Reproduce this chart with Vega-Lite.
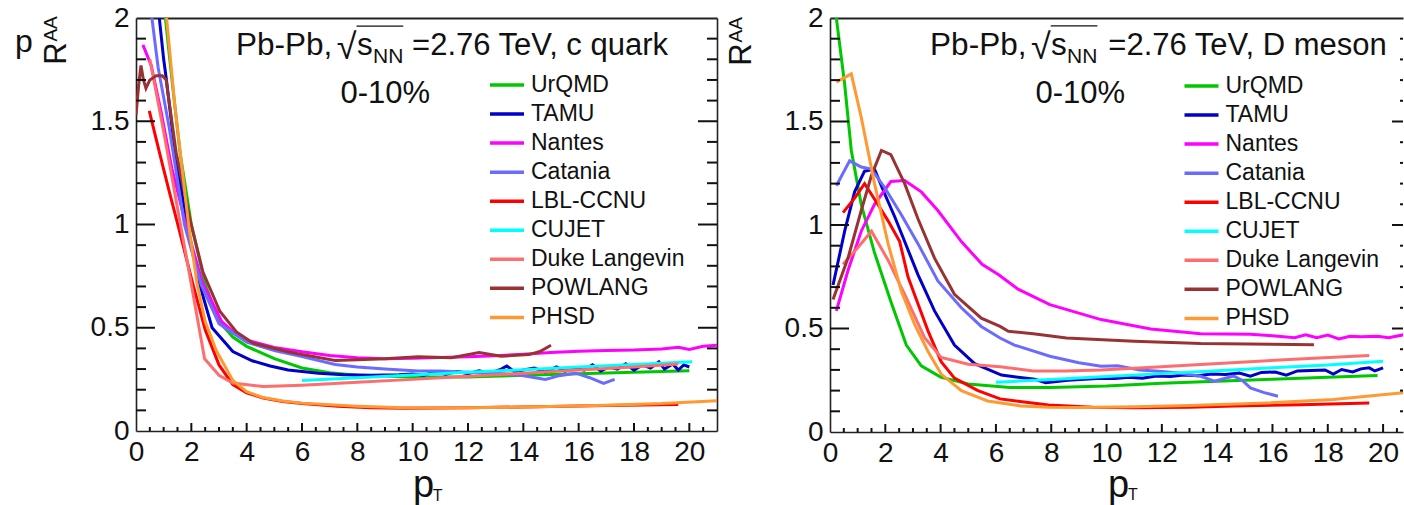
{
  "$schema": "https://vega.github.io/schema/vega-lite/v6.json",
  "background": "white",
  "padding": {"left": 15, "top": 4, "right": 0, "bottom": 0},
  "bounds": "flush",
  "spacing": 113,
  "config": {
    "font": "Liberation Sans",
    "view": {"stroke": null},
    "axis": {"grid": false, "domain": false, "ticks": false, "labels": false, "labelFont": "Liberation Sans", "labelColor": "#111", "domainColor": "#222", "domainWidth": 1.6, "titleFont": "Liberation Sans", "titleColor": "#111", "titleFontWeight": "normal", "labelFlush": false, "labelOverlap": false},
    "text": {"font": "Liberation Sans", "color": "#111"}
  },
  "resolve": {"scale": {"color": "independent"}, "legend": {"color": "independent"}},
  "datasets": {
    "tk": [
      {"v":0.5,"kind":"ymaj"},{"v":1,"kind":"ymaj"},{"v":1.5,"kind":"ymaj"},
      {"v":0.1,"kind":"ymin"},{"v":0.2,"kind":"ymin"},{"v":0.3,"kind":"ymin"},{"v":0.4,"kind":"ymin"},{"v":0.6,"kind":"ymin"},{"v":0.7,"kind":"ymin"},{"v":0.8,"kind":"ymin"},{"v":0.9,"kind":"ymin"},{"v":1.1,"kind":"ymin"},{"v":1.2,"kind":"ymin"},{"v":1.3,"kind":"ymin"},{"v":1.4,"kind":"ymin"},{"v":1.6,"kind":"ymin"},{"v":1.7,"kind":"ymin"},{"v":1.8,"kind":"ymin"},{"v":1.9,"kind":"ymin"},
      {"v":2,"kind":"xmaj"},{"v":4,"kind":"xmaj"},{"v":6,"kind":"xmaj"},{"v":8,"kind":"xmaj"},{"v":10,"kind":"xmaj"},{"v":12,"kind":"xmaj"},{"v":14,"kind":"xmaj"},{"v":16,"kind":"xmaj"},{"v":18,"kind":"xmaj"},{"v":20,"kind":"xmaj"},
      {"v":0.5,"kind":"xmin"},{"v":1,"kind":"xmin"},{"v":1.5,"kind":"xmin"},{"v":2.5,"kind":"xmin"},{"v":3,"kind":"xmin"},{"v":3.5,"kind":"xmin"},{"v":4.5,"kind":"xmin"},{"v":5,"kind":"xmin"},{"v":5.5,"kind":"xmin"},{"v":6.5,"kind":"xmin"},{"v":7,"kind":"xmin"},{"v":7.5,"kind":"xmin"},{"v":8.5,"kind":"xmin"},{"v":9,"kind":"xmin"},{"v":9.5,"kind":"xmin"},{"v":10.5,"kind":"xmin"},{"v":11,"kind":"xmin"},{"v":11.5,"kind":"xmin"},{"v":12.5,"kind":"xmin"},{"v":13,"kind":"xmin"},{"v":13.5,"kind":"xmin"},{"v":14.5,"kind":"xmin"},{"v":15,"kind":"xmin"},{"v":15.5,"kind":"xmin"},{"v":16.5,"kind":"xmin"},{"v":17,"kind":"xmin"},{"v":17.5,"kind":"xmin"},{"v":18.5,"kind":"xmin"},{"v":19,"kind":"xmin"},{"v":19.5,"kind":"xmin"},{"v":20.5,"kind":"xmin"}
    ],
    "cq": [
      {"model":"UrQMD","pt":1.0,"raa":2.08},{"model":"UrQMD","pt":1.3,"raa":1.7},{"model":"UrQMD","pt":1.6,"raa":1.34},{"model":"UrQMD","pt":2.0,"raa":1.0},{"model":"UrQMD","pt":2.5,"raa":0.71},{"model":"UrQMD","pt":3.0,"raa":0.53},{"model":"UrQMD","pt":3.5,"raa":0.455},{"model":"UrQMD","pt":4,"raa":0.41},{"model":"UrQMD","pt":5,"raa":0.35},{"model":"UrQMD","pt":6,"raa":0.305},{"model":"UrQMD","pt":7,"raa":0.282},{"model":"UrQMD","pt":8,"raa":0.27},{"model":"UrQMD","pt":10,"raa":0.262},{"model":"UrQMD","pt":12,"raa":0.262},{"model":"UrQMD","pt":14,"raa":0.27},{"model":"UrQMD","pt":16,"raa":0.277},{"model":"UrQMD","pt":18,"raa":0.284},{"model":"UrQMD","pt":20,"raa":0.292},
      {"model":"TAMU","pt":0.78,"raa":2.08},{"model":"TAMU","pt":1.0,"raa":1.8},{"model":"TAMU","pt":1.1,"raa":1.7},{"model":"TAMU","pt":1.4,"raa":1.36},{"model":"TAMU","pt":1.85,"raa":1.0},{"model":"TAMU","pt":2.3,"raa":0.71},{"model":"TAMU","pt":2.75,"raa":0.5},{"model":"TAMU","pt":3.5,"raa":0.385},{"model":"TAMU","pt":4.2,"raa":0.34},{"model":"TAMU","pt":4.85,"raa":0.315},{"model":"TAMU","pt":5.5,"raa":0.295},{"model":"TAMU","pt":6.6,"raa":0.28},{"model":"TAMU","pt":7.5,"raa":0.272},{"model":"TAMU","pt":8.5,"raa":0.27},{"model":"TAMU","pt":9.5,"raa":0.272},{"model":"TAMU","pt":10.0,"raa":0.276},{"model":"TAMU","pt":10.4,"raa":0.27},{"model":"TAMU","pt":10.8,"raa":0.285},{"model":"TAMU","pt":11.2,"raa":0.275},{"model":"TAMU","pt":11.6,"raa":0.288},{"model":"TAMU","pt":12.0,"raa":0.278},{"model":"TAMU","pt":12.4,"raa":0.292},{"model":"TAMU","pt":12.8,"raa":0.28},{"model":"TAMU","pt":13.2,"raa":0.3},{"model":"TAMU","pt":13.4,"raa":0.315},{"model":"TAMU","pt":13.7,"raa":0.285},{"model":"TAMU","pt":14.0,"raa":0.295},{"model":"TAMU","pt":14.4,"raa":0.305},{"model":"TAMU","pt":14.8,"raa":0.285},{"model":"TAMU","pt":15.2,"raa":0.31},{"model":"TAMU","pt":15.5,"raa":0.29},{"model":"TAMU","pt":15.9,"raa":0.305},{"model":"TAMU","pt":16.2,"raa":0.295},{"model":"TAMU","pt":16.5,"raa":0.32},{"model":"TAMU","pt":16.8,"raa":0.29},{"model":"TAMU","pt":17.1,"raa":0.31},{"model":"TAMU","pt":17.4,"raa":0.3},{"model":"TAMU","pt":17.7,"raa":0.325},{"model":"TAMU","pt":18.0,"raa":0.295},{"model":"TAMU","pt":18.3,"raa":0.32},{"model":"TAMU","pt":18.6,"raa":0.305},{"model":"TAMU","pt":18.9,"raa":0.335},{"model":"TAMU","pt":19.1,"raa":0.3},{"model":"TAMU","pt":19.4,"raa":0.325},{"model":"TAMU","pt":19.6,"raa":0.295},{"model":"TAMU","pt":19.8,"raa":0.32},{"model":"TAMU","pt":20.0,"raa":0.31},
      {"model":"Nantes","pt":0.25,"raa":1.87},{"model":"Nantes","pt":0.55,"raa":1.77},{"model":"Nantes","pt":0.9,"raa":1.55},{"model":"Nantes","pt":1.3,"raa":1.27},{"model":"Nantes","pt":1.8,"raa":1.0},{"model":"Nantes","pt":2.4,"raa":0.72},{"model":"Nantes","pt":3.1,"raa":0.53},{"model":"Nantes","pt":3.6,"raa":0.47},{"model":"Nantes","pt":4,"raa":0.44},{"model":"Nantes","pt":5,"raa":0.405},{"model":"Nantes","pt":6,"raa":0.384},{"model":"Nantes","pt":7,"raa":0.366},{"model":"Nantes","pt":8,"raa":0.355},{"model":"Nantes","pt":9,"raa":0.35},{"model":"Nantes","pt":10,"raa":0.352},{"model":"Nantes","pt":11,"raa":0.356},{"model":"Nantes","pt":12,"raa":0.36},{"model":"Nantes","pt":13,"raa":0.365},{"model":"Nantes","pt":14,"raa":0.372},{"model":"Nantes","pt":15,"raa":0.38},{"model":"Nantes","pt":16,"raa":0.386},{"model":"Nantes","pt":17,"raa":0.39},{"model":"Nantes","pt":18,"raa":0.392},{"model":"Nantes","pt":19,"raa":0.397},{"model":"Nantes","pt":19.6,"raa":0.405},{"model":"Nantes","pt":20,"raa":0.395},{"model":"Nantes","pt":20.5,"raa":0.41},{"model":"Nantes","pt":21,"raa":0.415},
      {"model":"Catania","pt":0.5,"raa":2.08},{"model":"Catania","pt":0.8,"raa":1.76},{"model":"Catania","pt":1.2,"raa":1.47},{"model":"Catania","pt":1.75,"raa":1.0},{"model":"Catania","pt":2.35,"raa":0.71},{"model":"Catania","pt":3.0,"raa":0.52},{"model":"Catania","pt":4,"raa":0.43},{"model":"Catania","pt":5,"raa":0.39},{"model":"Catania","pt":6,"raa":0.36},{"model":"Catania","pt":7.2,"raa":0.322},{"model":"Catania","pt":8,"raa":0.31},{"model":"Catania","pt":9,"raa":0.3},{"model":"Catania","pt":10.2,"raa":0.29},{"model":"Catania","pt":11,"raa":0.29},{"model":"Catania","pt":12,"raa":0.285},{"model":"Catania","pt":13,"raa":0.28},{"model":"Catania","pt":13.9,"raa":0.27},{"model":"Catania","pt":14.8,"raa":0.25},{"model":"Catania","pt":15.3,"raa":0.268},{"model":"Catania","pt":15.9,"raa":0.28},{"model":"Catania","pt":16.4,"raa":0.258},{"model":"Catania","pt":16.9,"raa":0.23},{"model":"Catania","pt":17.3,"raa":0.25},
      {"model":"LBL-CCNU","pt":0.48,"raa":1.55},{"model":"LBL-CCNU","pt":0.9,"raa":1.32},{"model":"LBL-CCNU","pt":1.2,"raa":1.16},{"model":"LBL-CCNU","pt":1.55,"raa":0.98},{"model":"LBL-CCNU","pt":2.0,"raa":0.74},{"model":"LBL-CCNU","pt":2.5,"raa":0.49},{"model":"LBL-CCNU","pt":3.0,"raa":0.32},{"model":"LBL-CCNU","pt":3.5,"raa":0.225},{"model":"LBL-CCNU","pt":4.0,"raa":0.185},{"model":"LBL-CCNU","pt":4.6,"raa":0.16},{"model":"LBL-CCNU","pt":5.3,"raa":0.143},{"model":"LBL-CCNU","pt":6,"raa":0.133},{"model":"LBL-CCNU","pt":7.3,"raa":0.12},{"model":"LBL-CCNU","pt":8.5,"raa":0.113},{"model":"LBL-CCNU","pt":9.7,"raa":0.11},{"model":"LBL-CCNU","pt":12,"raa":0.112},{"model":"LBL-CCNU","pt":14.5,"raa":0.118},{"model":"LBL-CCNU","pt":17,"raa":0.124},{"model":"LBL-CCNU","pt":19.6,"raa":0.128},
      {"model":"CUJET","pt":6,"raa":0.245},{"model":"CUJET","pt":8,"raa":0.258},{"model":"CUJET","pt":10,"raa":0.271},{"model":"CUJET","pt":12,"raa":0.284},{"model":"CUJET","pt":14,"raa":0.297},{"model":"CUJET","pt":16,"raa":0.31},{"model":"CUJET","pt":18,"raa":0.322},{"model":"CUJET","pt":20.1,"raa":0.335},
      {"model":"Duke Langevin","pt":0.5,"raa":1.8},{"model":"Duke Langevin","pt":1.0,"raa":1.45},{"model":"Duke Langevin","pt":1.5,"raa":1.08},{"model":"Duke Langevin","pt":2.0,"raa":0.71},{"model":"Duke Langevin","pt":2.48,"raa":0.35},{"model":"Duke Langevin","pt":3.0,"raa":0.27},{"model":"Duke Langevin","pt":3.5,"raa":0.232},{"model":"Duke Langevin","pt":4.6,"raa":0.215},{"model":"Duke Langevin","pt":6,"raa":0.222},{"model":"Duke Langevin","pt":8,"raa":0.236},{"model":"Duke Langevin","pt":10,"raa":0.25},{"model":"Duke Langevin","pt":12,"raa":0.265},{"model":"Duke Langevin","pt":14,"raa":0.28},{"model":"Duke Langevin","pt":16,"raa":0.295},{"model":"Duke Langevin","pt":18,"raa":0.31},{"model":"Duke Langevin","pt":19.6,"raa":0.325},
      {"model":"POWLANG","pt":0.0,"raa":1.53},{"model":"POWLANG","pt":0.1,"raa":1.68},{"model":"POWLANG","pt":0.18,"raa":1.77},{"model":"POWLANG","pt":0.27,"raa":1.7},{"model":"POWLANG","pt":0.36,"raa":1.66},{"model":"POWLANG","pt":0.5,"raa":1.7},{"model":"POWLANG","pt":0.73,"raa":1.72},{"model":"POWLANG","pt":0.95,"raa":1.72},{"model":"POWLANG","pt":1.09,"raa":1.7},{"model":"POWLANG","pt":1.45,"raa":1.35},{"model":"POWLANG","pt":1.94,"raa":1.03},{"model":"POWLANG","pt":2.42,"raa":0.77},{"model":"POWLANG","pt":3.03,"raa":0.58},{"model":"POWLANG","pt":3.63,"raa":0.48},{"model":"POWLANG","pt":4.24,"raa":0.425},{"model":"POWLANG","pt":5.45,"raa":0.385},{"model":"POWLANG","pt":6,"raa":0.37},{"model":"POWLANG","pt":7.2,"raa":0.342},{"model":"POWLANG","pt":8,"raa":0.345},{"model":"POWLANG","pt":9,"raa":0.35},{"model":"POWLANG","pt":10.2,"raa":0.36},{"model":"POWLANG","pt":11.4,"raa":0.355},{"model":"POWLANG","pt":12.4,"raa":0.38},{"model":"POWLANG","pt":13.2,"raa":0.362},{"model":"POWLANG","pt":14.2,"raa":0.37},{"model":"POWLANG","pt":14.6,"raa":0.385},{"model":"POWLANG","pt":15,"raa":0.415},
      {"model":"PHSD","pt":1.05,"raa":2.08},{"model":"PHSD","pt":1.4,"raa":1.58},{"model":"PHSD","pt":1.9,"raa":1.0},{"model":"PHSD","pt":2.2,"raa":0.72},{"model":"PHSD","pt":2.5,"raa":0.53},{"model":"PHSD","pt":2.9,"raa":0.39},{"model":"PHSD","pt":3.5,"raa":0.245},{"model":"PHSD","pt":4.0,"raa":0.19},{"model":"PHSD","pt":4.6,"raa":0.162},{"model":"PHSD","pt":5.3,"raa":0.145},{"model":"PHSD","pt":6,"raa":0.135},{"model":"PHSD","pt":8,"raa":0.12},{"model":"PHSD","pt":9.7,"raa":0.112},{"model":"PHSD","pt":12,"raa":0.112},{"model":"PHSD","pt":14.5,"raa":0.117},{"model":"PHSD","pt":17,"raa":0.125},{"model":"PHSD","pt":19,"raa":0.133},{"model":"PHSD","pt":21,"raa":0.147}
    ],
    "dm": [
      {"model":"UrQMD","pt":0.15,"raa":2.1},{"model":"UrQMD","pt":0.23,"raa":2.0},{"model":"UrQMD","pt":0.53,"raa":1.68},{"model":"UrQMD","pt":0.77,"raa":1.36},{"model":"UrQMD","pt":1.13,"raa":1.1},{"model":"UrQMD","pt":1.6,"raa":0.87},{"model":"UrQMD","pt":2.2,"raa":0.63},{"model":"UrQMD","pt":2.76,"raa":0.42},{"model":"UrQMD","pt":3.3,"raa":0.32},{"model":"UrQMD","pt":4.0,"raa":0.265},{"model":"UrQMD","pt":5.0,"raa":0.232},{"model":"UrQMD","pt":6.5,"raa":0.215},{"model":"UrQMD","pt":8,"raa":0.215},{"model":"UrQMD","pt":10,"raa":0.222},{"model":"UrQMD","pt":12,"raa":0.235},{"model":"UrQMD","pt":14,"raa":0.245},{"model":"UrQMD","pt":16,"raa":0.255},{"model":"UrQMD","pt":18,"raa":0.265},{"model":"UrQMD","pt":19.8,"raa":0.273},
      {"model":"TAMU","pt":0.11,"raa":0.71},{"model":"TAMU","pt":0.53,"raa":0.97},{"model":"TAMU","pt":0.89,"raa":1.16},{"model":"TAMU","pt":1.25,"raa":1.26},{"model":"TAMU","pt":1.61,"raa":1.27},{"model":"TAMU","pt":1.98,"raa":1.15},{"model":"TAMU","pt":2.34,"raa":1.04},{"model":"TAMU","pt":2.7,"raa":0.92},{"model":"TAMU","pt":3.18,"raa":0.76},{"model":"TAMU","pt":3.78,"raa":0.585},{"model":"TAMU","pt":4.5,"raa":0.42},{"model":"TAMU","pt":5.23,"raa":0.33},{"model":"TAMU","pt":6.2,"raa":0.275},{"model":"TAMU","pt":7.4,"raa":0.255},{"model":"TAMU","pt":7.8,"raa":0.238},{"model":"TAMU","pt":8.6,"raa":0.25},{"model":"TAMU","pt":9.2,"raa":0.255},{"model":"TAMU","pt":9.8,"raa":0.26},{"model":"TAMU","pt":10.3,"raa":0.258},{"model":"TAMU","pt":10.8,"raa":0.265},{"model":"TAMU","pt":11.3,"raa":0.26},{"model":"TAMU","pt":11.8,"raa":0.27},{"model":"TAMU","pt":12.3,"raa":0.268},{"model":"TAMU","pt":12.8,"raa":0.275},{"model":"TAMU","pt":13.3,"raa":0.272},{"model":"TAMU","pt":13.8,"raa":0.28},{"model":"TAMU","pt":14.3,"raa":0.278},{"model":"TAMU","pt":14.8,"raa":0.285},{"model":"TAMU","pt":15.2,"raa":0.27},{"model":"TAMU","pt":15.6,"raa":0.288},{"model":"TAMU","pt":16.1,"raa":0.29},{"model":"TAMU","pt":16.5,"raa":0.275},{"model":"TAMU","pt":16.9,"raa":0.295},{"model":"TAMU","pt":17.4,"raa":0.297},{"model":"TAMU","pt":17.9,"raa":0.3},{"model":"TAMU","pt":18.2,"raa":0.28},{"model":"TAMU","pt":18.5,"raa":0.302},{"model":"TAMU","pt":18.9,"raa":0.29},{"model":"TAMU","pt":19.2,"raa":0.305},{"model":"TAMU","pt":19.5,"raa":0.31},{"model":"TAMU","pt":19.7,"raa":0.295},{"model":"TAMU","pt":20.0,"raa":0.31},
      {"model":"Nantes","pt":0.23,"raa":0.585},{"model":"Nantes","pt":0.65,"raa":0.78},{"model":"Nantes","pt":1.13,"raa":0.97},{"model":"Nantes","pt":1.61,"raa":1.1},{"model":"Nantes","pt":2.2,"raa":1.21},{"model":"Nantes","pt":2.7,"raa":1.215},{"model":"Nantes","pt":3.3,"raa":1.16},{"model":"Nantes","pt":3.9,"raa":1.07},{"model":"Nantes","pt":4.75,"raa":0.92},{"model":"Nantes","pt":5.5,"raa":0.81},{"model":"Nantes","pt":6.1,"raa":0.76},{"model":"Nantes","pt":6.8,"raa":0.69},{"model":"Nantes","pt":7.95,"raa":0.615},{"model":"Nantes","pt":9.8,"raa":0.543},{"model":"Nantes","pt":11.6,"raa":0.498},{"model":"Nantes","pt":13.4,"raa":0.475},{"model":"Nantes","pt":15.2,"raa":0.472},{"model":"Nantes","pt":16.0,"raa":0.465},{"model":"Nantes","pt":16.8,"raa":0.455},{"model":"Nantes","pt":17.2,"raa":0.47},{"model":"Nantes","pt":17.6,"raa":0.455},{"model":"Nantes","pt":18.0,"raa":0.468},{"model":"Nantes","pt":18.4,"raa":0.45},{"model":"Nantes","pt":18.8,"raa":0.462},{"model":"Nantes","pt":19.2,"raa":0.46},{"model":"Nantes","pt":19.8,"raa":0.462},{"model":"Nantes","pt":20.2,"raa":0.455},{"model":"Nantes","pt":20.75,"raa":0.47},
      {"model":"Catania","pt":0.23,"raa":1.19},{"model":"Catania","pt":0.71,"raa":1.31},{"model":"Catania","pt":1.13,"raa":1.28},{"model":"Catania","pt":1.5,"raa":1.27},{"model":"Catania","pt":1.98,"raa":1.18},{"model":"Catania","pt":2.58,"raa":1.05},{"model":"Catania","pt":3.18,"raa":0.91},{"model":"Catania","pt":3.9,"raa":0.73},{"model":"Catania","pt":4.75,"raa":0.6},{"model":"Catania","pt":5.47,"raa":0.51},{"model":"Catania","pt":6.15,"raa":0.454},{"model":"Catania","pt":6.67,"raa":0.42},{"model":"Catania","pt":7.95,"raa":0.366},{"model":"Catania","pt":9,"raa":0.335},{"model":"Catania","pt":9.8,"raa":0.318},{"model":"Catania","pt":10.4,"raa":0.32},{"model":"Catania","pt":11.2,"raa":0.3},{"model":"Catania","pt":11.9,"raa":0.293},{"model":"Catania","pt":12.6,"raa":0.285},{"model":"Catania","pt":13.4,"raa":0.269},{"model":"Catania","pt":13.9,"raa":0.245},{"model":"Catania","pt":14.3,"raa":0.26},{"model":"Catania","pt":14.6,"raa":0.27},{"model":"Catania","pt":14.9,"raa":0.25},{"model":"Catania","pt":15.2,"raa":0.213},{"model":"Catania","pt":15.7,"raa":0.19},{"model":"Catania","pt":16.2,"raa":0.173},
      {"model":"LBL-CCNU","pt":0.47,"raa":1.06},{"model":"LBL-CCNU","pt":0.89,"raa":1.13},{"model":"LBL-CCNU","pt":1.25,"raa":1.2},{"model":"LBL-CCNU","pt":1.73,"raa":1.1},{"model":"LBL-CCNU","pt":2.1,"raa":1.02},{"model":"LBL-CCNU","pt":2.52,"raa":0.92},{"model":"LBL-CCNU","pt":2.82,"raa":0.75},{"model":"LBL-CCNU","pt":3.18,"raa":0.62},{"model":"LBL-CCNU","pt":3.54,"raa":0.49},{"model":"LBL-CCNU","pt":4.02,"raa":0.34},{"model":"LBL-CCNU","pt":4.5,"raa":0.26},{"model":"LBL-CCNU","pt":5.35,"raa":0.2},{"model":"LBL-CCNU","pt":6.15,"raa":0.16},{"model":"LBL-CCNU","pt":7.9,"raa":0.13},{"model":"LBL-CCNU","pt":9.5,"raa":0.12},{"model":"LBL-CCNU","pt":11,"raa":0.117},{"model":"LBL-CCNU","pt":13,"raa":0.12},{"model":"LBL-CCNU","pt":14.6,"raa":0.125},{"model":"LBL-CCNU","pt":17,"raa":0.132},{"model":"LBL-CCNU","pt":19.5,"raa":0.14},
      {"model":"CUJET","pt":6.0,"raa":0.24},{"model":"CUJET","pt":8,"raa":0.254},{"model":"CUJET","pt":10,"raa":0.268},{"model":"CUJET","pt":12,"raa":0.282},{"model":"CUJET","pt":14,"raa":0.296},{"model":"CUJET","pt":16,"raa":0.31},{"model":"CUJET","pt":18,"raa":0.324},{"model":"CUJET","pt":20,"raa":0.342},
      {"model":"Duke Langevin","pt":0.47,"raa":0.81},{"model":"Duke Langevin","pt":1.0,"raa":0.89},{"model":"Duke Langevin","pt":1.5,"raa":0.97},{"model":"Duke Langevin","pt":2.1,"raa":0.83},{"model":"Duke Langevin","pt":2.7,"raa":0.665},{"model":"Duke Langevin","pt":3.42,"raa":0.456},{"model":"Duke Langevin","pt":4.02,"raa":0.36},{"model":"Duke Langevin","pt":5.0,"raa":0.327},{"model":"Duke Langevin","pt":6.15,"raa":0.315},{"model":"Duke Langevin","pt":7.35,"raa":0.295},{"model":"Duke Langevin","pt":8.5,"raa":0.295},{"model":"Duke Langevin","pt":9.8,"raa":0.3},{"model":"Duke Langevin","pt":11.5,"raa":0.312},{"model":"Duke Langevin","pt":13.4,"raa":0.326},{"model":"Duke Langevin","pt":15.5,"raa":0.342},{"model":"Duke Langevin","pt":17.5,"raa":0.356},{"model":"Duke Langevin","pt":19.5,"raa":0.37},
      {"model":"POWLANG","pt":0.11,"raa":0.64},{"model":"POWLANG","pt":0.65,"raa":0.84},{"model":"POWLANG","pt":1.13,"raa":1.07},{"model":"POWLANG","pt":1.5,"raa":1.24},{"model":"POWLANG","pt":1.86,"raa":1.36},{"model":"POWLANG","pt":2.2,"raa":1.34},{"model":"POWLANG","pt":2.7,"raa":1.2},{"model":"POWLANG","pt":3.18,"raa":1.03},{"model":"POWLANG","pt":3.78,"raa":0.84},{"model":"POWLANG","pt":4.5,"raa":0.665},{"model":"POWLANG","pt":5.47,"raa":0.55},{"model":"POWLANG","pt":6.15,"raa":0.51},{"model":"POWLANG","pt":6.45,"raa":0.487},{"model":"POWLANG","pt":7.35,"raa":0.475},{"model":"POWLANG","pt":8.55,"raa":0.454},{"model":"POWLANG","pt":11,"raa":0.438},{"model":"POWLANG","pt":13.4,"raa":0.427},{"model":"POWLANG","pt":17.5,"raa":0.422},
      {"model":"PHSD","pt":0.23,"raa":1.69},{"model":"PHSD","pt":0.77,"raa":1.73},{"model":"PHSD","pt":1.13,"raa":1.52},{"model":"PHSD","pt":1.61,"raa":1.2},{"model":"PHSD","pt":2.1,"raa":0.91},{"model":"PHSD","pt":2.58,"raa":0.68},{"model":"PHSD","pt":3.06,"raa":0.52},{"model":"PHSD","pt":3.54,"raa":0.39},{"model":"PHSD","pt":4.02,"raa":0.28},{"model":"PHSD","pt":4.75,"raa":0.2},{"model":"PHSD","pt":5.7,"raa":0.15},{"model":"PHSD","pt":6.9,"raa":0.126},{"model":"PHSD","pt":7.9,"raa":0.12},{"model":"PHSD","pt":9,"raa":0.118},{"model":"PHSD","pt":11,"raa":0.122},{"model":"PHSD","pt":13,"raa":0.128},{"model":"PHSD","pt":15.8,"raa":0.14},{"model":"PHSD","pt":18.2,"raa":0.157},{"model":"PHSD","pt":20.75,"raa":0.19}
    ],
    "annL": [
      {"role":"L","label":"Pb-Pb,","pt":3.61,"raa":1.821},
      {"role":"L","label":"s","pt":7.99,"raa":1.821},
      {"role":"R","label":"=2.76 TeV, c quark","pt":19.23,"raa":1.821},
      {"role":"R","label":"0-10%","pt":10.63,"raa":1.588},
      {"role":"sub","label":"NN","pt":8.57,"raa":1.782},
      {"role":"root","label":"√","pt":7.26,"raa":1.8},
      {"role":"bar","label":"","pt":7.97,"pt2":9.66,"raa":1.961},
      {"role":"AA","label":"AA","pt":-2.855,"raa":1.947},
      {"role":"p","label":"p","pt":-4.37,"raa":1.835},
      {"role":"T","label":"T","pt":10.73,"raa":-0.34}
    ],
    "annR": [
      {"role":"L","label":"Pb-Pb,","pt":3.62,"raa":1.822},
      {"role":"L","label":"s","pt":7.99,"raa":1.822},
      {"role":"R","label":"=2.76 TeV, D meson","pt":20.13,"raa":1.822},
      {"role":"R","label":"0-10%","pt":10.67,"raa":1.59},
      {"role":"sub","label":"NN","pt":8.57,"raa":1.783},
      {"role":"root","label":"√","pt":7.27,"raa":1.8},
      {"role":"bar","label":"","pt":7.98,"pt2":9.67,"raa":1.962},
      {"role":"AA","label":"AA","pt":-3.18,"raa":1.943},
      {"role":"T","label":"T","pt":10.78,"raa":-0.33}
    ]
  },
  "hconcat": [
    {
      "width": 581, "height": 413,
      "resolve": {"axis": {"x": "independent", "y": "independent"}},
      "layer": [
        {
          "data": {"name": "cq"},
          "mark": {"type": "line", "strokeWidth": 3, "clip": true},
          "encoding": {
            "x": {"field": "pt", "type": "quantitative", "scale": {"domain": [0, 21], "nice": false, "zero": false},
                  "axis": {"orient": "bottom", "domain": true, "labels": true, "values": [0,2,4,6,8,10,12,14,16,18,20], "format": "~g", "labelPadding": 7, "labelFontSize": 28, "title": "p", "titleFontSize": 38, "titleX": 287, "titleY": 65, "titleBaseline": "alphabetic", "titleAlign": "center", "titleAngle": 0}},
            "y": {"field": "raa", "type": "quantitative", "scale": {"domain": [0, 2], "nice": false, "zero": false},
                  "axis": {"orient": "left", "domain": true, "labels": true, "values": [0,0.5,1,1.5,2], "format": "~g", "labelPadding": 7, "labelFontSize": 28, "title": "R", "titleFontSize": 31, "titleAngle": 270, "titleX": -71, "titleY": 35, "titleBaseline": "alphabetic", "titleAlign": "center"}},
            "color": {"field": "model", "type": "nominal",
                      "scale": {"domain": ["UrQMD","TAMU","Nantes","Catania","LBL-CCNU","CUJET","Duke Langevin","POWLANG","PHSD"], "range": ["#00c800","#0000c8","#ff00ff","#6b6bff","#ff0000","#00ffff","#ff6e6e","#993333","#ff9933"]},
                      "legend": {"orient": "none", "legendX": 359.5, "legendY": 55.5, "title": null, "direction": "vertical", "padding": 0, "symbolType": "M-2,0H2", "symbolSize": 289, "symbolStrokeWidth": 3.5, "symbolOffset": 0, "labelOffset": 12.5, "labelFontSize": 23, "labelFont": "Liberation Sans", "labelColor": "#111", "rowPadding": 5.05, "labelLimit": 400}}
          }
        },
        {
          "data": {"name": "annL"},
          "transform": [{"filter": "datum.role === 'L'"}],
          "mark": {"type": "text", "align": "left", "baseline": "alphabetic", "fontSize": 31.5},
          "encoding": {
            "x": {"field": "pt", "type": "quantitative", "scale": {"domain": [0, 21], "nice": false, "zero": false}, "axis": null},
            "y": {"field": "raa", "type": "quantitative", "scale": {"domain": [0, 2], "nice": false, "zero": false}, "axis": null},
            "text": {"field": "label"}
          }
        },
        {
          "data": {"name": "annL"},
          "transform": [{"filter": "datum.role === 'R'"}],
          "mark": {"type": "text", "align": "right", "baseline": "alphabetic", "fontSize": 31},
          "encoding": {
            "x": {"field": "pt", "type": "quantitative", "scale": {"domain": [0, 21], "nice": false, "zero": false}, "axis": null},
            "y": {"field": "raa", "type": "quantitative", "scale": {"domain": [0, 2], "nice": false, "zero": false}, "axis": null},
            "text": {"field": "label"}
          }
        },
        {
          "data": {"name": "annL"},
          "transform": [{"filter": "datum.role === 'sub'"}],
          "mark": {"type": "text", "align": "left", "baseline": "alphabetic", "fontSize": 21},
          "encoding": {
            "x": {"field": "pt", "type": "quantitative", "scale": {"domain": [0, 21], "nice": false, "zero": false},
                  "axis": {"orient": "top", "domain": true, "domainWidth": 2, "title": null}},
            "y": {"field": "raa", "type": "quantitative", "scale": {"domain": [0, 2], "nice": false, "zero": false}, "axis": null},
            "text": {"field": "label"}
          }
        },
        {
          "data": {"name": "annL"},
          "transform": [{"filter": "datum.role === 'root'"}],
          "mark": {"type": "text", "align": "left", "baseline": "alphabetic", "fontSize": 36},
          "encoding": {
            "x": {"field": "pt", "type": "quantitative", "scale": {"domain": [0, 21], "nice": false, "zero": false}, "axis": null},
            "y": {"field": "raa", "type": "quantitative", "scale": {"domain": [0, 2], "nice": false, "zero": false}, "axis": null},
            "text": {"field": "label"}
          }
        },
        {
          "data": {"name": "annL"},
          "transform": [{"filter": "datum.role === 'bar'"}],
          "mark": {"type": "rule", "strokeWidth": 1.3, "color": "#111"},
          "encoding": {
            "x": {"field": "pt", "type": "quantitative", "scale": {"domain": [0, 21], "nice": false, "zero": false}, "axis": null},
            "x2": {"field": "pt2"},
            "y": {"field": "raa", "type": "quantitative", "scale": {"domain": [0, 2], "nice": false, "zero": false},
                  "axis": {"orient": "right", "domain": true, "title": null}}
          }
        },
        {
          "data": {"name": "annL"},
          "transform": [{"filter": "datum.role === 'AA'"}],
          "mark": {"type": "text", "align": "center", "baseline": "alphabetic", "fontSize": 19, "angle": 270},
          "encoding": {
            "x": {"field": "pt", "type": "quantitative", "scale": {"domain": [0, 21], "nice": false, "zero": false}, "axis": null},
            "y": {"field": "raa", "type": "quantitative", "scale": {"domain": [0, 2], "nice": false, "zero": false}, "axis": null},
            "text": {"field": "label"}
          }
        },
        {
          "data": {"name": "annL"},
          "transform": [{"filter": "datum.role === 'p'"}],
          "mark": {"type": "text", "align": "left", "baseline": "alphabetic", "fontSize": 32},
          "encoding": {
            "x": {"field": "pt", "type": "quantitative", "scale": {"domain": [0, 21], "nice": false, "zero": false}, "axis": null},
            "y": {"field": "raa", "type": "quantitative", "scale": {"domain": [0, 2], "nice": false, "zero": false}, "axis": null},
            "text": {"field": "label"}
          }
        },
        {
          "data": {"name": "annL"},
          "transform": [{"filter": "datum.role === 'T'"}],
          "mark": {"type": "text", "align": "left", "baseline": "alphabetic", "fontSize": 16},
          "encoding": {
            "x": {"field": "pt", "type": "quantitative", "scale": {"domain": [0, 21], "nice": false, "zero": false}, "axis": null},
            "y": {"field": "raa", "type": "quantitative", "scale": {"domain": [0, 2], "nice": false, "zero": false}, "axis": null},
            "text": {"field": "label"}
          }
        },
        {
          "data": {"name": "tk"},
          "transform": [{"filter": "datum.kind === 'ymaj'"}],
          "mark": {"type": "rule", "strokeWidth": 2, "color": "#111", "x2Offset": 19},
          "encoding": {
            "x": {"datum": 0, "type": "quantitative", "scale": {"domain": [0, 21], "nice": false, "zero": false}, "axis": null},
            "x2": {"datum": 0},
            "y": {"field": "v", "type": "quantitative", "scale": {"domain": [0, 2], "nice": false, "zero": false}, "axis": null}
          }
        },
        {
          "data": {"name": "tk"},
          "transform": [{"filter": "datum.kind === 'ymin'"}],
          "mark": {"type": "rule", "strokeWidth": 2, "color": "#111", "x2Offset": 10},
          "encoding": {
            "x": {"datum": 0, "type": "quantitative", "scale": {"domain": [0, 21], "nice": false, "zero": false}, "axis": null},
            "x2": {"datum": 0},
            "y": {"field": "v", "type": "quantitative", "scale": {"domain": [0, 2], "nice": false, "zero": false}, "axis": null}
          }
        },
        {
          "data": {"name": "tk"},
          "transform": [{"filter": "datum.kind === 'ymaj'"}],
          "mark": {"type": "rule", "strokeWidth": 2, "color": "#111", "x2Offset": -19},
          "encoding": {
            "x": {"datum": 21, "type": "quantitative", "scale": {"domain": [0, 21], "nice": false, "zero": false}, "axis": null},
            "x2": {"datum": 21},
            "y": {"field": "v", "type": "quantitative", "scale": {"domain": [0, 2], "nice": false, "zero": false}, "axis": null}
          }
        },
        {
          "data": {"name": "tk"},
          "transform": [{"filter": "datum.kind === 'ymin'"}],
          "mark": {"type": "rule", "strokeWidth": 2, "color": "#111", "x2Offset": -10},
          "encoding": {
            "x": {"datum": 21, "type": "quantitative", "scale": {"domain": [0, 21], "nice": false, "zero": false}, "axis": null},
            "x2": {"datum": 21},
            "y": {"field": "v", "type": "quantitative", "scale": {"domain": [0, 2], "nice": false, "zero": false}, "axis": null}
          }
        },
        {
          "data": {"name": "tk"},
          "transform": [{"filter": "datum.kind === 'xmaj'"}],
          "mark": {"type": "rule", "strokeWidth": 2, "color": "#111", "y2Offset": -8},
          "encoding": {
            "x": {"field": "v", "type": "quantitative", "scale": {"domain": [0, 21], "nice": false, "zero": false}, "axis": null},
            "y": {"datum": 0, "type": "quantitative", "scale": {"domain": [0, 2], "nice": false, "zero": false}, "axis": null},
            "y2": {"datum": 0}
          }
        },
        {
          "data": {"name": "tk"},
          "transform": [{"filter": "datum.kind === 'xmin'"}],
          "mark": {"type": "rule", "strokeWidth": 2, "color": "#111", "y2Offset": -4},
          "encoding": {
            "x": {"field": "v", "type": "quantitative", "scale": {"domain": [0, 21], "nice": false, "zero": false}, "axis": null},
            "y": {"datum": 0, "type": "quantitative", "scale": {"domain": [0, 2], "nice": false, "zero": false}, "axis": null},
            "y2": {"datum": 0}
          }
        }
      ]
    },
    {
      "width": 573, "height": 414,
      "resolve": {"axis": {"x": "independent", "y": "independent"}},
      "layer": [
        {
          "data": {"name": "dm"},
          "mark": {"type": "line", "strokeWidth": 3, "clip": true},
          "encoding": {
            "x": {"field": "pt", "type": "quantitative", "scale": {"domain": [0, 20.72], "nice": false, "zero": false},
                  "axis": {"orient": "bottom", "domain": true, "labels": true, "values": [0,2,4,6,8,10,12,14,16,18,20], "format": "~g", "labelPadding": 7, "labelFontSize": 28, "title": "p", "titleFontSize": 38, "titleX": 288, "titleY": 64, "titleBaseline": "alphabetic", "titleAlign": "center", "titleAngle": 0}},
            "y": {"field": "raa", "type": "quantitative", "scale": {"domain": [0, 2], "nice": false, "zero": false},
                  "axis": {"orient": "left", "domain": true, "labels": true, "values": [0,0.5,1,1.5,2], "format": "~g", "labelPadding": 7, "labelFontSize": 28, "title": "R", "titleFontSize": 31, "titleAngle": 270, "titleX": -80, "titleY": 36, "titleBaseline": "alphabetic", "titleAlign": "center"}},
            "color": {"field": "model", "type": "nominal",
                      "scale": {"domain": ["UrQMD","TAMU","Nantes","Catania","LBL-CCNU","CUJET","Duke Langevin","POWLANG","PHSD"], "range": ["#00c800","#0000c8","#ff00ff","#6b6bff","#ff0000","#00ffff","#ff6e6e","#993333","#ff9933"]},
                      "legend": {"orient": "none", "legendX": 360, "legendY": 56.5, "title": null, "direction": "vertical", "padding": 0, "symbolType": "M-2,0H2", "symbolSize": 289, "symbolStrokeWidth": 3.5, "symbolOffset": 0, "labelOffset": 12.5, "labelFontSize": 23, "labelFont": "Liberation Sans", "labelColor": "#111", "rowPadding": 5.05, "labelLimit": 400}}
          }
        },
        {
          "data": {"name": "annR"},
          "transform": [{"filter": "datum.role === 'L'"}],
          "mark": {"type": "text", "align": "left", "baseline": "alphabetic", "fontSize": 31.5},
          "encoding": {
            "x": {"field": "pt", "type": "quantitative", "scale": {"domain": [0, 20.72], "nice": false, "zero": false}, "axis": null},
            "y": {"field": "raa", "type": "quantitative", "scale": {"domain": [0, 2], "nice": false, "zero": false}, "axis": null},
            "text": {"field": "label"}
          }
        },
        {
          "data": {"name": "annR"},
          "transform": [{"filter": "datum.role === 'R'"}],
          "mark": {"type": "text", "align": "right", "baseline": "alphabetic", "fontSize": 31},
          "encoding": {
            "x": {"field": "pt", "type": "quantitative", "scale": {"domain": [0, 20.72], "nice": false, "zero": false}, "axis": null},
            "y": {"field": "raa", "type": "quantitative", "scale": {"domain": [0, 2], "nice": false, "zero": false}, "axis": null},
            "text": {"field": "label"}
          }
        },
        {
          "data": {"name": "annR"},
          "transform": [{"filter": "datum.role === 'sub'"}],
          "mark": {"type": "text", "align": "left", "baseline": "alphabetic", "fontSize": 21},
          "encoding": {
            "x": {"field": "pt", "type": "quantitative", "scale": {"domain": [0, 20.72], "nice": false, "zero": false},
                  "axis": {"orient": "top", "domain": true, "domainWidth": 2, "title": null}},
            "y": {"field": "raa", "type": "quantitative", "scale": {"domain": [0, 2], "nice": false, "zero": false}, "axis": null},
            "text": {"field": "label"}
          }
        },
        {
          "data": {"name": "annR"},
          "transform": [{"filter": "datum.role === 'root'"}],
          "mark": {"type": "text", "align": "left", "baseline": "alphabetic", "fontSize": 36},
          "encoding": {
            "x": {"field": "pt", "type": "quantitative", "scale": {"domain": [0, 20.72], "nice": false, "zero": false}, "axis": null},
            "y": {"field": "raa", "type": "quantitative", "scale": {"domain": [0, 2], "nice": false, "zero": false}, "axis": null},
            "text": {"field": "label"}
          }
        },
        {
          "data": {"name": "annR"},
          "transform": [{"filter": "datum.role === 'bar'"}],
          "mark": {"type": "rule", "strokeWidth": 1.3, "color": "#111"},
          "encoding": {
            "x": {"field": "pt", "type": "quantitative", "scale": {"domain": [0, 20.72], "nice": false, "zero": false}, "axis": null},
            "x2": {"field": "pt2"},
            "y": {"field": "raa", "type": "quantitative", "scale": {"domain": [0, 2], "nice": false, "zero": false}, "axis": null}
          }
        },
        {
          "data": {"name": "annR"},
          "transform": [{"filter": "datum.role === 'AA'"}],
          "mark": {"type": "text", "align": "center", "baseline": "alphabetic", "fontSize": 19, "angle": 270},
          "encoding": {
            "x": {"field": "pt", "type": "quantitative", "scale": {"domain": [0, 20.72], "nice": false, "zero": false}, "axis": null},
            "y": {"field": "raa", "type": "quantitative", "scale": {"domain": [0, 2], "nice": false, "zero": false}, "axis": null},
            "text": {"field": "label"}
          }
        },
        {
          "data": {"name": "annR"},
          "transform": [{"filter": "datum.role === 'T'"}],
          "mark": {"type": "text", "align": "left", "baseline": "alphabetic", "fontSize": 16},
          "encoding": {
            "x": {"field": "pt", "type": "quantitative", "scale": {"domain": [0, 20.72], "nice": false, "zero": false}, "axis": null},
            "y": {"field": "raa", "type": "quantitative", "scale": {"domain": [0, 2], "nice": false, "zero": false}, "axis": null},
            "text": {"field": "label"}
          }
        },
        {
          "data": {"name": "tk"},
          "transform": [{"filter": "datum.kind === 'ymaj'"}],
          "mark": {"type": "rule", "strokeWidth": 2, "color": "#111", "x2Offset": 19},
          "encoding": {
            "x": {"datum": 0, "type": "quantitative", "scale": {"domain": [0, 20.72], "nice": false, "zero": false}, "axis": null},
            "x2": {"datum": 0},
            "y": {"field": "v", "type": "quantitative", "scale": {"domain": [0, 2], "nice": false, "zero": false}, "axis": null}
          }
        },
        {
          "data": {"name": "tk"},
          "transform": [{"filter": "datum.kind === 'ymin'"}],
          "mark": {"type": "rule", "strokeWidth": 2, "color": "#111", "x2Offset": 10},
          "encoding": {
            "x": {"datum": 0, "type": "quantitative", "scale": {"domain": [0, 20.72], "nice": false, "zero": false}, "axis": null},
            "x2": {"datum": 0},
            "y": {"field": "v", "type": "quantitative", "scale": {"domain": [0, 2], "nice": false, "zero": false}, "axis": null}
          }
        },
        {
          "data": {"name": "tk"},
          "transform": [{"filter": "datum.kind === 'ymaj'"}],
          "mark": {"type": "rule", "strokeWidth": 2, "color": "#111", "x2Offset": -11},
          "encoding": {
            "x": {"datum": 20.72, "type": "quantitative", "scale": {"domain": [0, 20.72], "nice": false, "zero": false}, "axis": null},
            "x2": {"datum": 20.72},
            "y": {"field": "v", "type": "quantitative", "scale": {"domain": [0, 2], "nice": false, "zero": false}, "axis": null}
          }
        },
        {
          "data": {"name": "tk"},
          "transform": [{"filter": "datum.kind === 'ymin'"}],
          "mark": {"type": "rule", "strokeWidth": 2, "color": "#111", "x2Offset": -3},
          "encoding": {
            "x": {"datum": 20.72, "type": "quantitative", "scale": {"domain": [0, 20.72], "nice": false, "zero": false}, "axis": null},
            "x2": {"datum": 20.72},
            "y": {"field": "v", "type": "quantitative", "scale": {"domain": [0, 2], "nice": false, "zero": false}, "axis": null}
          }
        },
        {
          "data": {"name": "tk"},
          "transform": [{"filter": "datum.kind === 'xmaj'"}],
          "mark": {"type": "rule", "strokeWidth": 2, "color": "#111", "y2Offset": -8},
          "encoding": {
            "x": {"field": "v", "type": "quantitative", "scale": {"domain": [0, 20.72], "nice": false, "zero": false}, "axis": null},
            "y": {"datum": 0, "type": "quantitative", "scale": {"domain": [0, 2], "nice": false, "zero": false}, "axis": null},
            "y2": {"datum": 0}
          }
        },
        {
          "data": {"name": "tk"},
          "transform": [{"filter": "datum.kind === 'xmin'"}],
          "mark": {"type": "rule", "strokeWidth": 2, "color": "#111", "y2Offset": -4},
          "encoding": {
            "x": {"field": "v", "type": "quantitative", "scale": {"domain": [0, 20.72], "nice": false, "zero": false}, "axis": null},
            "y": {"datum": 0, "type": "quantitative", "scale": {"domain": [0, 2], "nice": false, "zero": false}, "axis": null},
            "y2": {"datum": 0}
          }
        }
      ]
    }
  ]
}
